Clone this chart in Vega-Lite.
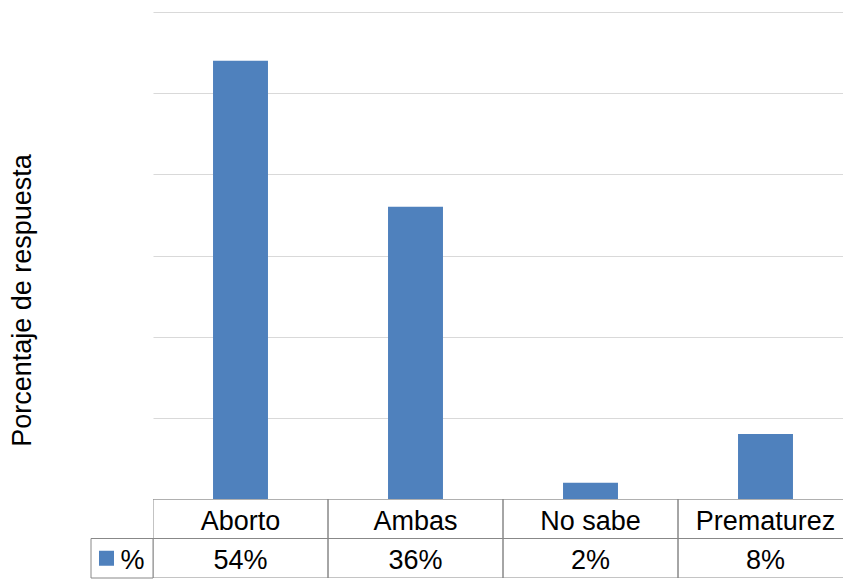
{
  "$schema": "https://vega.github.io/schema/vega-lite/v6.json",
  "background": "white",
  "padding": {"left": 8, "top": 12, "right": 0, "bottom": 1},
  "config": {
    "view": {"stroke": null},
    "font": "Liberation Sans",
    "text": {"font": "Liberation Sans", "fontSize": 27, "color": "black"}
  },
  "datasets": {
    "respuestas": [
      {"causa": "Aborto", "proporcion": 0.54},
      {"causa": "Ambas", "proporcion": 0.36},
      {"causa": "No sabe", "proporcion": 0.02},
      {"causa": "Prematurez", "proporcion": 0.08}
    ]
  },
  "columns": 2,
  "bounds": "flush",
  "align": "each",
  "spacing": 0,
  "concat": [
    {
      "width": 62,
      "height": 487,
      "data": {"values": []},
      "mark": "rect",
      "encoding": {}
    },
    {
      "width": 690,
      "height": 487,
      "data": {"name": "respuestas"},
      "mark": {"type": "bar", "color": "#4F81BD"},
      "encoding": {
        "x": {
          "field": "causa",
          "type": "nominal",
          "sort": null,
          "scale": {"range": [0, 700], "paddingInner": 0.686, "paddingOuter": 0.343},
          "axis": null
        },
        "y": {
          "field": "proporcion",
          "type": "quantitative",
          "scale": {"domain": [0, 0.6], "nice": false},
          "axis": {
            "values": [0, 0.1, 0.2, 0.3, 0.4, 0.5, 0.6],
            "labels": false,
            "ticks": false,
            "domain": false,
            "gridColor": "#D9D9D9",
            "gridWidth": 1,
            "title": "Porcentaje de respuesta",
            "titleFont": "Liberation Sans",
            "titleFontSize": 27,
            "titleFontWeight": "normal",
            "titleColor": "black",
            "titlePadding": 117,
            "titleY": 288
          }
        }
      }
    },
    {
      "width": 62,
      "height": 79,
      "data": {"values": [{}]},
      "encoding": {
        "y": {"datum": "valor", "type": "nominal", "scale": {"domain": ["categoria", "valor"], "paddingInner": 0, "paddingOuter": 0}, "axis": null}
      },
      "layer": [
        {
          "mark": {"type": "rect", "filled": false, "stroke": "#888888", "strokeWidth": 1}
        },
        {
          "mark": {"type": "point", "shape": "square", "filled": true, "size": 225, "color": "#4F81BD", "opacity": 1},
          "encoding": {
            "x": {"datum": "muestra", "type": "nominal", "scale": {"domain": ["muestra", "rotulo"], "paddingInner": 0, "paddingOuter": 0}, "axis": null}
          }
        },
        {
          "mark": {"type": "text", "text": "%", "dx": -5, "dy": 3, "baseline": "middle"},
          "encoding": {
            "x": {"datum": "rotulo", "type": "nominal", "scale": {"domain": ["muestra", "rotulo"], "paddingInner": 0, "paddingOuter": 0}, "axis": null}
          }
        }
      ]
    },
    {
      "width": 690,
      "height": 79,
      "data": {"name": "respuestas"},
      "encoding": {
        "x": {
          "field": "causa",
          "type": "nominal",
          "sort": null,
          "scale": {"range": [0, 700], "paddingInner": 0, "paddingOuter": 0},
          "axis": null
        }
      },
      "layer": [
        {
          "mark": {"type": "rect", "filled": false, "stroke": "#888888", "strokeWidth": 1, "clip": true},
          "encoding": {
            "y": {"datum": "categoria", "type": "nominal", "scale": {"domain": ["categoria", "valor"], "paddingInner": 0, "paddingOuter": 0}, "axis": null}
          }
        },
        {
          "mark": {"type": "rect", "filled": false, "stroke": "#888888", "strokeWidth": 1, "clip": true},
          "encoding": {
            "y": {"datum": "valor", "type": "nominal", "axis": null}
          }
        },
        {
          "mark": {"type": "text", "dy": 3, "baseline": "middle"},
          "encoding": {
            "y": {"datum": "categoria", "type": "nominal", "axis": null},
            "text": {"field": "causa"}
          }
        },
        {
          "mark": {"type": "text", "dy": 3, "baseline": "middle"},
          "encoding": {
            "y": {"datum": "valor", "type": "nominal", "axis": null},
            "text": {"field": "proporcion", "type": "quantitative", "format": ".0%"}
          }
        }
      ]
    }
  ]
}
